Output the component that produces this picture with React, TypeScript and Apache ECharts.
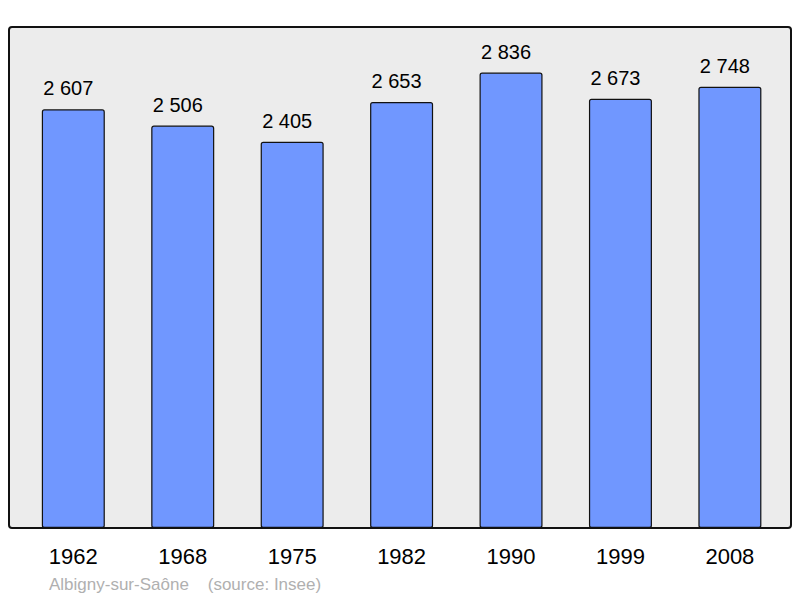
import React, { useEffect, useRef } from "react";
import * as echarts from "echarts";

const years: string[] = ["1962", "1968", "1975", "1982", "1990", "1999", "2008"];
const population: number[] = [2607, 2506, 2405, 2653, 2836, 2673, 2748];
const commune = "Albigny-sur-Saône";
const source = "(source: Insee)";

const fmt = (v: number) => {
  const s = String(Math.round(v));
  return s.replace(/\B(?=(\d{3})+(?!\d))/g, " ");
};

export default function App() {
  const ref = useRef<HTMLDivElement>(null);
  useEffect(() => {
    document.body.style.margin = "0";
    if (!ref.current) return;
    const chart = echarts.init(ref.current, undefined, { renderer: "svg" });
    const maxV = Math.max(...population) * 1.1;
    chart.setOption({
      animation: false,
      backgroundColor: "#ffffff",
      textStyle: { fontFamily: "Liberation Sans, Arial, sans-serif" },
      graphic: [
        {
          type: "rect",
          z: -10,
          shape: { x: 9, y: 27, width: 782, height: 501, r: 3 },
          style: { fill: "#ececec", stroke: "#111111", lineWidth: 2 },
        },
        {
          type: "text",
          left: 49,
          top: 576,
          style: {
            text: commune + "    " + source,
            fill: "#b0b0b0",
            font: "17px 'Liberation Sans', Arial, sans-serif",
          },
        },
      ],
      grid: { left: 18.6, top: 27, width: 766, height: 501, containLabel: false },
      xAxis: {
        type: "category",
        data: years,
        boundaryGap: true,
        axisLine: { show: false },
        axisTick: { show: false },
        axisLabel: {
          color: "#000000",
          fontSize: 22,
          margin: 17,
          fontFamily: "Liberation Sans, Arial, sans-serif",
        },
      },
      yAxis: {
        type: "value",
        min: 0,
        max: maxV,
        show: false,
        splitLine: { show: false },
      },
      series: [
        {
          type: "bar",
          data: population,
          barWidth: 63,
          itemStyle: {
            color: "#7097ff",
            borderColor: "#111111",
            borderWidth: 1.2,
            borderRadius: 2,
          },
          label: {
            show: true,
            position: "top",
            distance: 11,
            offset: [-5, 0],
            color: "#000000",
            fontSize: 20,
            fontFamily: "Liberation Sans, Arial, sans-serif",
            formatter: (p: any) => fmt(p.value),
          },
        },
      ],
    });
    return () => chart.dispose();
  }, []);
  return <div ref={ref} style={{ width: 800, height: 598 }} />;
}
